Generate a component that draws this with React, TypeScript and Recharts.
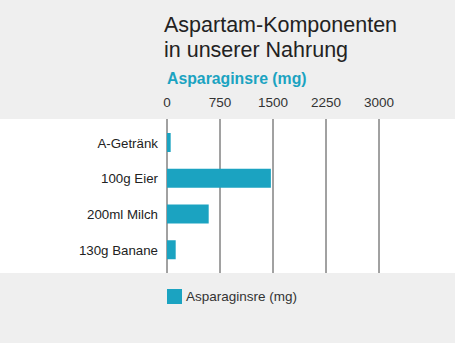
import { BarChart, Bar, XAxis, YAxis, CartesianGrid, Legend } from "recharts"

const foods = ["A-Getränk", "100g Eier", "200ml Milch", "130g Banane"]
const asparagin = [52, 1470, 590, 123]
const xTicks = [0, 750, 1500, 2250, 3000]

const data = foods.map((name, i) => ({ name, value: asparagin[i] }))

const TEAL = "#1ba3c1"
const FONT = "'Liberation Sans', Arial, sans-serif"

export default function App() {
  return (
    <div
      style={{
        position: "absolute",
        left: 0,
        top: 0,
        width: 455,
        height: 343,
        background: "#efefef",
        fontFamily: FONT,
        overflow: "hidden",
      }}
    >
      {/* white band behind the plot */}
      <div style={{ position: "absolute", left: 0, top: 119, width: 455, height: 154, background: "#fff" }} />
      <div style={{ position: "absolute", left: 164, top: 13, fontSize: 21.5, lineHeight: "25px", color: "#222" }}>
        Aspartam-Komponenten
        <br />
        in unserer Nahrung
      </div>
      <div style={{ position: "absolute", left: 167, top: 70, fontSize: 15.8, fontWeight: 700, color: TEAL }}>
        Asparaginsre (mg)
      </div>
      <div style={{ position: "absolute", left: 0, top: 0 }}>
        <BarChart
          width={455}
          height={343}
          data={data}
          layout="vertical"
          margin={{ top: 89, right: 76, left: 0, bottom: 70 }}
          barSize={19}
        >
          <CartesianGrid horizontal={false} stroke="#444" />
          <XAxis
            type="number"
            orientation="top"
            domain={[0, 3000]}
            ticks={xTicks}
            height={30}
            axisLine={false}
            tickLine={false}
            tickSize={0}
            tickMargin={12}
            tick={{ fontSize: 13.5, fill: "#333", fontFamily: FONT }}
          />
          <YAxis
            type="category"
            dataKey="name"
            width={167}
            axisLine={false}
            tickLine={false}
            tickSize={0}
            tickMargin={9}
            padding={{ top: 6, bottom: 5 }}
            tick={{ fontSize: 13.3, fill: "#222", fontFamily: FONT }}
          />
          <Legend
            verticalAlign="middle"
            align="center"
            layout="horizontal"
            iconType="square"
            iconSize={15}
            wrapperStyle={{ top: 287, left: 167, width: "auto", height: "auto" }}
            formatter={(v) => <span style={{ color: "#333", fontSize: 13.5 }}>{v}</span>}
          />
          <Bar dataKey="value" name="Asparaginsre (mg)" fill={TEAL} isAnimationActive={false} />
        </BarChart>
      </div>
    </div>
  )
}
